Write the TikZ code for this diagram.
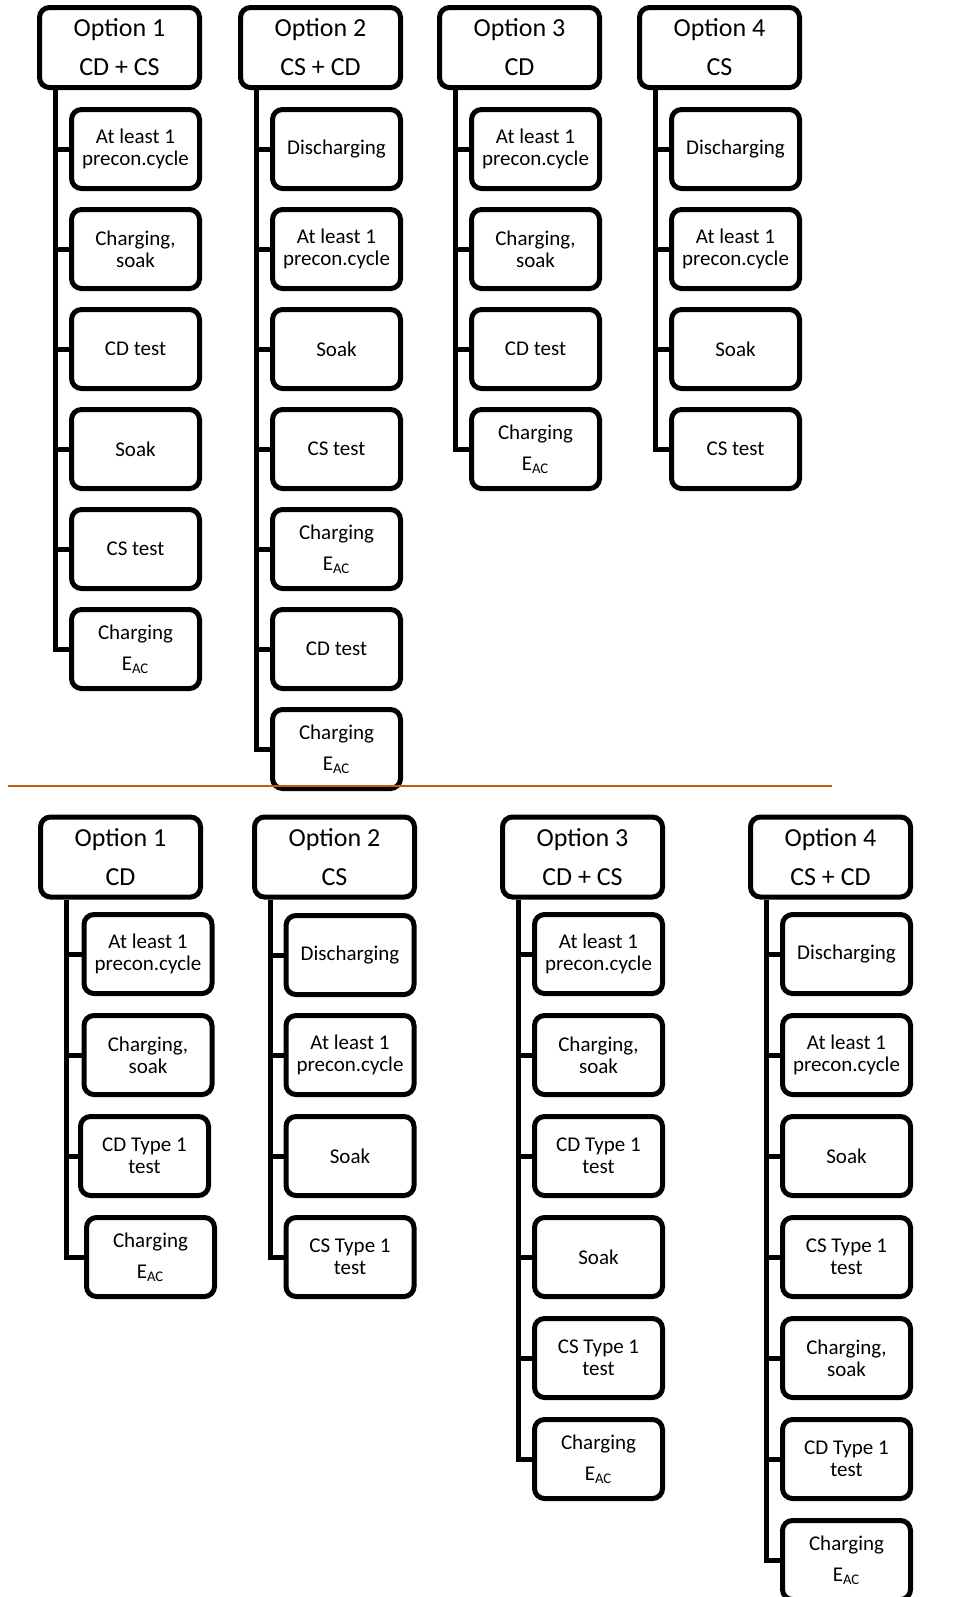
\documentclass[tikz,border=0pt]{standalone}
\usepackage{fontspec}
\setmainfont{Carlito}
\definecolor{dividerorange}{RGB}{197,90,17}
\tikzset{
  option head/.style={draw=black,line width=2.5pt,rounded corners=5pt,fill=white,
    minimum width=80pt,minimum height=40pt,inner sep=0pt,align=center,
    font=\fontsize{13}{19.5}\selectfont},
  option step/.style={draw=black,line width=2.5pt,rounded corners=5pt,fill=white,
    minimum width=64pt,minimum height=39.5pt,inner sep=0pt,align=center,
    font=\fontsize{10.5}{11.2}\selectfont},
  option trunk/.style={line width=2.5pt,draw=black,line join=miter},
  option divider/.style={line width=1pt,draw=dividerorange}
}
\newcommand{\chargeac}{Charging\\[4.3pt]E\textsubscript{AC}}

\begin{document}
\begin{tikzpicture}[x=0.5pt,y=-0.5pt]
  \useasboundingbox (0,0) rectangle (976,1597);

  % upper set
  \node[option head] (up1) at (119.5,47.5) {Option 1\\CD + CS};
  \node[option step] (up1a) at (135.5,149) {At least 1\\precon.cycle};
  \node[option step] (up1b) at (135.5,249) {Charging,\\soak};
  \node[option step] (up1c) at (135.5,349) {CD test};
  \node[option step] (up1d) at (135.5,449) {Soak};
  \node[option step] (up1e) at (135.5,549) {CS test};
  \node[option step] (up1f) at (135.5,649) {\chargeac};
  \coordinate (upt1) at (55,0);
  \draw[option trunk] (up1.south -| upt1) |- (up1f.west)
    (up1a.west) -- (up1a.west -| upt1) (up1b.west) -- (up1b.west -| upt1)
    (up1c.west) -- (up1c.west -| upt1) (up1d.west) -- (up1d.west -| upt1)
    (up1e.west) -- (up1e.west -| upt1);

  \node[option head] (up2) at (320.5,47.5) {Option 2\\CS + CD};
  \node[option step] (up2a) at (336.5,149) {Discharging};
  \node[option step] (up2b) at (336.5,249) {At least 1\\precon.cycle};
  \node[option step] (up2c) at (336.5,349) {Soak};
  \node[option step] (up2d) at (336.5,449) {CS test};
  \node[option step] (up2e) at (336.5,549) {\chargeac};
  \node[option step] (up2f) at (336.5,649) {CD test};
  \node[option step] (up2g) at (336.5,749) {\chargeac};
  \coordinate (upt2) at (256,0);
  \draw[option trunk] (up2.south -| upt2) |- (up2g.west)
    (up2a.west) -- (up2a.west -| upt2) (up2b.west) -- (up2b.west -| upt2)
    (up2c.west) -- (up2c.west -| upt2) (up2d.west) -- (up2d.west -| upt2)
    (up2e.west) -- (up2e.west -| upt2) (up2f.west) -- (up2f.west -| upt2);

  \node[option head] (up3) at (519.5,47.5) {Option 3\\CD};
  \node[option step] (up3a) at (535.5,149) {At least 1\\precon.cycle};
  \node[option step] (up3b) at (535.5,249) {Charging,\\soak};
  \node[option step] (up3c) at (535.5,349) {CD test};
  \node[option step] (up3d) at (535.5,449) {\chargeac};
  \coordinate (upt3) at (455.5,0);
  \draw[option trunk] (up3.south -| upt3) |- (up3d.west)
    (up3a.west) -- (up3a.west -| upt3) (up3b.west) -- (up3b.west -| upt3)
    (up3c.west) -- (up3c.west -| upt3);

  \node[option head] (up4) at (719.5,47.5) {Option 4\\CS};
  \node[option step] (up4a) at (735.5,149) {Discharging};
  \node[option step] (up4b) at (735.5,249) {At least 1\\precon.cycle};
  \node[option step] (up4c) at (735.5,349) {Soak};
  \node[option step] (up4d) at (735.5,449) {CS test};
  \coordinate (upt4) at (655.5,0);
  \draw[option trunk] (up4.south -| upt4) |- (up4d.west)
    (up4a.west) -- (up4a.west -| upt4) (up4b.west) -- (up4b.west -| upt4)
    (up4c.west) -- (up4c.west -| upt4);

  % lower set
  \node[option head] (lo1) at (120.5,857) {Option 1\\CD};
  \node[option step] (lo1a) at (148,954) {At least 1\\precon.cycle};
  \node[option step] (lo1b) at (148,1055) {Charging,\\soak};
  \node[option step] (lo1c) at (144.5,1156) {CD Type 1\\test};
  \node[option step] (lo1d) at (150.5,1257) {\chargeac};
  \coordinate (lot1) at (66,0);
  \draw[option trunk] (lo1.south -| lot1) |- (lo1d.west)
    (lo1a.west) -- (lo1a.west -| lot1) (lo1b.west) -- (lo1b.west -| lot1)
    (lo1c.west) -- (lo1c.west -| lot1);

  \node[option head] (lo2) at (334.5,857) {Option 2\\CS};
  \node[option step] (lo2a) at (350,955) {Discharging};
  \node[option step] (lo2b) at (350,1055) {At least 1\\precon.cycle};
  \node[option step] (lo2c) at (350,1156) {Soak};
  \node[option step] (lo2d) at (350,1257) {CS Type 1\\test};
  \coordinate (lot2) at (270,0);
  \draw[option trunk] (lo2.south -| lot2) |- (lo2d.west)
    (lo2a.west) -- (lo2a.west -| lot2) (lo2b.west) -- (lo2b.west -| lot2)
    (lo2c.west) -- (lo2c.west -| lot2);

  \node[option head] (lo3) at (582.5,857) {Option 3\\CD + CS};
  \node[option step] (lo3a) at (598.5,954) {At least 1\\precon.cycle};
  \node[option step] (lo3b) at (598.5,1055) {Charging,\\soak};
  \node[option step] (lo3c) at (598.5,1156) {CD Type 1\\test};
  \node[option step] (lo3d) at (598.5,1257) {Soak};
  \node[option step] (lo3e) at (598.5,1358) {CS Type 1\\test};
  \node[option step] (lo3f) at (598.5,1459) {\chargeac};
  \coordinate (lot3) at (518,0);
  \draw[option trunk] (lo3.south -| lot3) |- (lo3f.west)
    (lo3a.west) -- (lo3a.west -| lot3) (lo3b.west) -- (lo3b.west -| lot3)
    (lo3c.west) -- (lo3c.west -| lot3) (lo3d.west) -- (lo3d.west -| lot3)
    (lo3e.west) -- (lo3e.west -| lot3);

  \node[option head] (lo4) at (830.5,857) {Option 4\\CS + CD};
  \node[option step] (lo4a) at (846.5,954) {Discharging};
  \node[option step] (lo4b) at (846.5,1055) {At least 1\\precon.cycle};
  \node[option step] (lo4c) at (846.5,1156) {Soak};
  \node[option step] (lo4d) at (846.5,1257) {CS Type 1\\test};
  \node[option step] (lo4e) at (846.5,1358) {Charging,\\soak};
  \node[option step] (lo4f) at (846.5,1459) {CD Type 1\\test};
  \node[option step] (lo4g) at (846.5,1560) {\chargeac};
  \coordinate (lot4) at (766,0);
  \draw[option trunk] (lo4.south -| lot4) |- (lo4g.west)
    (lo4a.west) -- (lo4a.west -| lot4) (lo4b.west) -- (lo4b.west -| lot4)
    (lo4c.west) -- (lo4c.west -| lot4) (lo4d.west) -- (lo4d.west -| lot4)
    (lo4e.west) -- (lo4e.west -| lot4) (lo4f.west) -- (lo4f.west -| lot4);

  \coordinate (divl) at (8,786);
  \coordinate (divr) at (832,786);
  \draw[option divider] (divl) -- (divr);
\end{tikzpicture}
\end{document}
